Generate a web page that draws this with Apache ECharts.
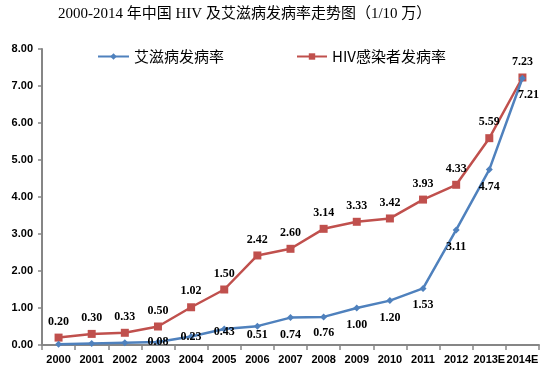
<!DOCTYPE html>
<html>
<head>
<meta charset="utf-8">
<script src="https://cdn.jsdelivr.net/npm/echarts@6/dist/echarts.min.js"></script>
<style>html,body{margin:0;padding:0;background:#fff;}#c{width:546px;height:378px;}</style>
</head>
<body>
<div id="c"></div>
<script>
const categories = ['2000','2001','2002','2003','2004','2005','2006','2007','2008','2009','2010','2011','2012','2013E','2014E'];
const aidsRate = [0.02,0.04,0.06,0.08,0.23,0.43,0.51,0.74,0.76,1.00,1.20,1.53,3.11,4.74,7.21];
const hivRate = [0.20,0.30,0.33,0.50,1.02,1.50,2.42,2.60,3.14,3.33,3.42,3.93,4.33,5.59,7.23];
const seriesNames = ['艾滋病发病率','HIV感染者发病率'];
const titleText = '2000-2014 年中国 HIV 及艾滋病发病率走势图（1/10 万）';

// label placement (style, not data)
const aidsLabelOffset = [null,null,null,[0,0],[0,0],[0,3],[0,9],[0,17],[0,16],[0,17],[0,17],[0,17],[0,17],[0,17],[6,17]];

const labelFont = {fontFamily:'Liberation Serif', fontWeight:'bold', fontSize:12, color:'#000'};

const chart = echarts.init(document.getElementById('c'), null, {renderer:'canvas'});
chart.setOption({
  animation:false,
  backgroundColor:'#fff',
  title:{
    text:titleText, left:58, top:7, padding:0,
    textStyle:{fontFamily:'Liberation Serif, Noto Sans CJK SC', fontWeight:'normal', fontSize:15, color:'#000'}
  },
  legend:[
    {data:[seriesNames[0]], left:97, top:49, padding:0, itemWidth:31, itemHeight:8, itemGap:5,
     textStyle:{fontFamily:'Noto Sans CJK SC', fontSize:15, color:'#000'}},
    {data:[seriesNames[1]], left:296, top:49, padding:0, itemWidth:30, itemHeight:8, itemGap:5,
     textStyle:{fontFamily:'Noto Sans CJK SC', fontSize:15, color:'#000'}}
  ],
  grid:{left:42, right:7, top:49, bottom:33, containLabel:false},
  xAxis:{
    type:'category', data:categories, boundaryGap:true,
    axisLine:{lineStyle:{color:'#868686', width:2}},
    axisTick:{show:true, length:5, lineStyle:{color:'#868686', width:1.5}},
    axisLabel:{margin:9, interval:0, fontFamily:'Liberation Sans', fontWeight:'bold', fontSize:11, color:'#000'}
  },
  yAxis:{
    type:'value', min:0, max:8, interval:1,
    splitLine:{show:false},
    axisLine:{show:true, lineStyle:{color:'#868686', width:2}},
    axisTick:{show:true, length:4, lineStyle:{color:'#868686', width:1.5}},
    axisLabel:{margin:9, fontFamily:'Liberation Sans', fontWeight:'bold', fontSize:11, color:'#000',
      formatter:v=>v.toFixed(2)}
  },
  series:[
    {
      name:seriesNames[0], type:'line', data:aidsRate.map((v,i)=>{
        const off = aidsLabelOffset[i];
        return {value:v, label: off ? {show:true, position:'inside', offset:off} : {show:false}};
      }),
      symbol:'diamond', symbolSize:7,
      lineStyle:{color:'#4F81BD', width:2.5},
      itemStyle:{color:'#4F81BD'},
      label:Object.assign({show:true, position:'inside', formatter:p=>p.value.toFixed(2)}, labelFont),
      z:3
    },
    {
      name:seriesNames[1], type:'line', data:hivRate,
      symbol:'rect', symbolSize:8,
      lineStyle:{color:'#C0504D', width:2.5},
      itemStyle:{color:'#C0504D'},
      label:Object.assign({show:true, position:'inside', offset:[0,-16], formatter:p=>p.value.toFixed(2)}, labelFont),
      z:2
    }
  ]
});
</script>
</body>
</html>
